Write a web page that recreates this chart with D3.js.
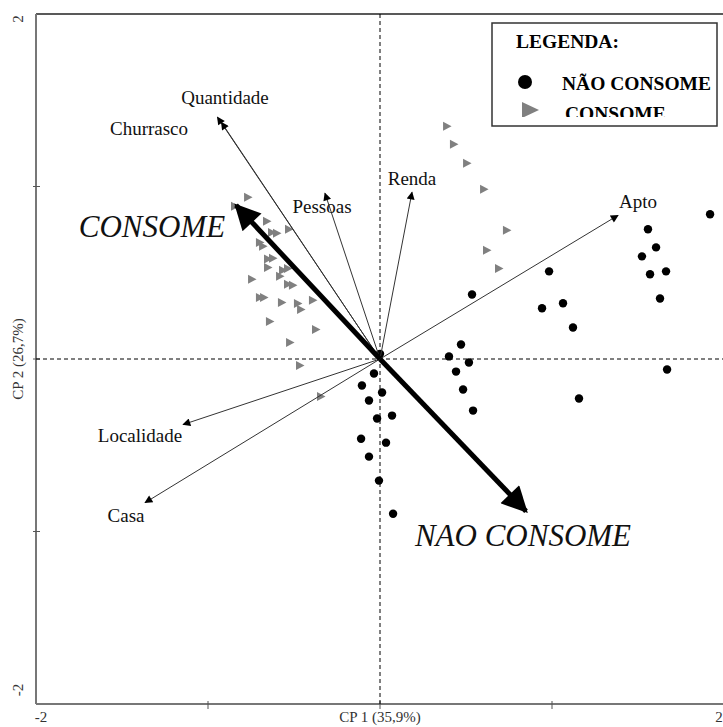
<!DOCTYPE html>
<html>
<head>
<meta charset="utf-8">
<script src="https://cdn.jsdelivr.net/npm/d3@7"></script>
<style>
  body { margin: 0; background: #fff; }
  svg { display: block; font-family: "Liberation Serif", "DejaVu Serif", serif; }
</style>
</head>
<body>
<div id="chart"></div>
<script>
// Scores - consumers (triangles), CP1 / CP2
const consomeX = [-0.767, -0.843, -0.657, -0.628, -0.599, -0.529, -0.698, -0.680, -0.651, -0.622,
  -0.651, -0.564, -0.535, -0.744, -0.581, -0.535, -0.506, -0.698, -0.674, -0.570,
  -0.477, -0.459, -0.390, -0.640, -0.372, -0.523, -0.465, -0.343,
  0.390, 0.430, 0.506, 0.605, 0.738, 0.622, 0.692];
const consomeY = [0.938, 0.885, 0.798, 0.734, 0.729, 0.752, 0.676, 0.653, 0.579, 0.584,
  0.531, 0.514, 0.525, 0.462, 0.479, 0.433, 0.427, 0.357, 0.357, 0.328,
  0.322, 0.287, 0.340, 0.218, 0.171, 0.096, -0.038, -0.218,
  1.350, 1.245, 1.135, 0.984, 0.746, 0.630, 0.525];

// Scores - non consumers (circles)
const naoConsomeX = [0.0, -0.035, -0.105, 0.012, -0.064, -0.017, 0.070, -0.110, 0.035, -0.064, -0.006, 0.076,
  0.983, 0.535, 0.942, 1.064, 1.122, 0.471, 0.401, 0.517, 0.442, 0.483, 1.157, 0.541,
  1.919, 1.558, 1.605, 1.523, 1.570, 1.663, 1.628, 1.669];
const naoConsomeY = [0.03, -0.084, -0.154, -0.194, -0.241, -0.345, -0.328, -0.462, -0.485, -0.566, -0.705, -0.897,
  0.508, 0.374, 0.294, 0.323, 0.183, 0.084, 0.015, -0.020, -0.073, -0.177, -0.229, -0.299,
  0.839, 0.752, 0.647, 0.595, 0.491, 0.508, 0.351, -0.061];

// Loadings
const varNames = ["Quantidade", "Churrasco", "Renda", "Pessoas", "Apto", "Localidade", "Casa"];
const varX = [-0.945, -0.922, 0.186, -0.320, 1.384, -1.145, -1.366];
const varY = [1.402, 1.372, 0.967, 0.961, 0.833, -0.380, -0.833];
// label anchor (center x, baseline y) in px
const varLabelPos = [[225, 104], [149, 135], [412, 185], [322, 213], [638, 208], [140, 442], [126, 522]];

// group vectors
const groupNames = ["CONSOME", "NAO CONSOME"];
const groupX = [-0.837, 0.849];
const groupY = [0.891, -0.882];
const groupLabelPos = [[152, 237], [523, 546]];

const xTicks = [-2, -1, 0, 1, 2];
const yTicks = [-2, -1, 0, 1, 2];

const width = 723, height = 727;
const plotLeft = 36, plotRight = 724, plotTop = 14, plotBottom = 704;

const x = d3.scaleLinear().domain([-2, 2]).range([plotLeft, plotRight]);
const y = d3.scaleLinear().domain([-2, 2]).range([plotBottom, plotTop]);

const svg = d3.select("#chart").append("svg")
  .attr("width", width)
  .attr("height", height);

const defs = svg.append("defs");
defs.append("marker")
  .attr("id", "head")
  .attr("viewBox", "0 0 10 10")
  .attr("refX", 9).attr("refY", 5)
  .attr("markerWidth", 11).attr("markerHeight", 8)
  .attr("markerUnits", "userSpaceOnUse")
  .attr("orient", "auto")
  .append("path").attr("d", "M0,0 L10,5 L0,10 Z").attr("fill", "#000");
defs.append("marker")
  .attr("id", "bighead")
  .attr("viewBox", "0 0 10 10")
  .attr("refX", 9).attr("refY", 5)
  .attr("markerWidth", 34).attr("markerHeight", 26)
  .attr("markerUnits", "userSpaceOnUse")
  .attr("orient", "auto")
  .append("path").attr("d", "M0,0 L10,5 L0,10 Z").attr("fill", "#000");
defs.append("clipPath").attr("id", "legclip")
  .append("rect").attr("x", 490).attr("y", 20).attr("width", 230).attr("height", 97);

// frame
svg.append("line").attr("x1", plotLeft).attr("x2", width).attr("y1", plotTop).attr("y2", plotTop)
  .attr("stroke", "#222").attr("stroke-width", 1.5);
svg.append("line").attr("x1", plotLeft).attr("x2", plotLeft).attr("y1", plotTop).attr("y2", plotBottom)
  .attr("stroke", "#777").attr("stroke-width", 2);
svg.append("line").attr("x1", plotLeft).attr("x2", width).attr("y1", plotBottom).attr("y2", plotBottom)
  .attr("stroke", "#777").attr("stroke-width", 2);

// ticks
svg.selectAll(".xt").data(xTicks.slice(1, -1)).enter().append("line")
  .attr("x1", d => x(d)).attr("x2", d => x(d))
  .attr("y1", plotBottom - 3).attr("y2", plotBottom + 5)
  .attr("stroke", "#555").attr("stroke-width", 1);
svg.selectAll(".yt").data(yTicks.slice(1, -1)).enter().append("line")
  .attr("x1", plotLeft - 3).attr("x2", plotLeft + 4)
  .attr("y1", d => y(d)).attr("y2", d => y(d))
  .attr("stroke", "#555").attr("stroke-width", 1);

// tick labels
const lab = svg.append("g").attr("font-size", 15).attr("fill", "#333");
lab.append("text").attr("x", x(-2) + 5).attr("y", 722).attr("text-anchor", "middle").text("-2");
lab.append("text").attr("x", x(0)).attr("y", 722).attr("text-anchor", "middle").text("CP 1 (35,9%)");
lab.append("text").attr("x", 719).attr("y", 722).attr("text-anchor", "middle").text("2");
lab.append("text").attr("transform", `translate(23,${y(2) + 5}) rotate(-90)`).attr("text-anchor", "middle").text("2");
lab.append("text").attr("transform", `translate(23,${y(-2) - 14}) rotate(-90)`).attr("text-anchor", "middle").text("-2");
lab.append("text").attr("transform", `translate(23,${y(0)}) rotate(-90)`).attr("text-anchor", "middle").text("CP 2 (26,7%)");

// dashed zero lines
svg.append("line").attr("x1", x(0)).attr("x2", x(0)).attr("y1", plotTop).attr("y2", plotBottom)
  .attr("stroke", "#000").attr("stroke-dasharray", "4,3");
svg.append("line").attr("x1", plotLeft).attr("x2", width).attr("y1", y(0)).attr("y2", y(0))
  .attr("stroke", "#000").attr("stroke-dasharray", "4,3");

// points - consome (triangles)
svg.selectAll(".tri").data(consomeX.map((d, i) => [d, consomeY[i]])).enter().append("path")
  .attr("transform", d => `translate(${x(d[0])},${y(d[1])})`)
  .attr("d", "M-4,-4.5 L4.5,0 L-4,4.5 Z")
  .attr("fill", "#808080");

// points - nao consome (circles)
svg.selectAll(".dot").data(naoConsomeX.map((d, i) => [d, naoConsomeY[i]])).enter().append("circle")
  .attr("cx", d => x(d[0])).attr("cy", d => y(d[1]))
  .attr("r", 4.2).attr("fill", "#000");

// variable vectors
svg.selectAll(".vec").data(varNames).enter().append("line")
  .attr("x1", x(0)).attr("y1", y(0))
  .attr("x2", (d, i) => x(varX[i])).attr("y2", (d, i) => y(varY[i]))
  .attr("stroke", "#333").attr("stroke-width", 1)
  .attr("marker-end", "url(#head)");
svg.selectAll(".vlab").data(varNames).enter().append("text")
  .attr("x", (d, i) => varLabelPos[i][0]).attr("y", (d, i) => varLabelPos[i][1])
  .attr("text-anchor", "middle").attr("font-size", 19).attr("fill", "#111")
  .text(d => d);

// group vectors
svg.selectAll(".gvec").data(groupNames).enter().append("line")
  .attr("x1", x(0)).attr("y1", y(0))
  .attr("x2", (d, i) => x(groupX[i])).attr("y2", (d, i) => y(groupY[i]))
  .attr("stroke", "#000").attr("stroke-width", 5)
  .attr("marker-end", "url(#bighead)");
svg.selectAll(".glab").data(groupNames).enter().append("text")
  .attr("x", (d, i) => groupLabelPos[i][0]).attr("y", (d, i) => groupLabelPos[i][1])
  .attr("text-anchor", "middle").attr("font-size", 31).attr("font-style", "italic").attr("fill", "#111")
  .text(d => d);

// legend
const leg = svg.append("g");
leg.append("rect").attr("x", 492).attr("y", 23).attr("width", 225).attr("height", 103)
  .attr("fill", "#fff").attr("stroke", "#333").attr("stroke-width", 1.5);
const legIn = leg.append("g").attr("clip-path", "url(#legclip)").attr("font-weight", "bold").attr("fill", "#000");
legIn.append("text").attr("x", 516).attr("y", 48).attr("font-size", 19.5).text("LEGENDA:");
legIn.append("circle").attr("cx", 525).attr("cy", 82).attr("r", 7).attr("fill", "#000");
legIn.append("text").attr("x", 562).attr("y", 90).attr("font-size", 19.5).text("NÃO CONSOME");
legIn.append("path").attr("transform", "translate(530,110)").attr("d", "M-8,-8 L9,0 L-8,8 Z").attr("fill", "#808080");
legIn.append("text").attr("x", 565).attr("y", 120).attr("font-size", 19.5).text("CONSOME");
</script>
</body>
</html>
